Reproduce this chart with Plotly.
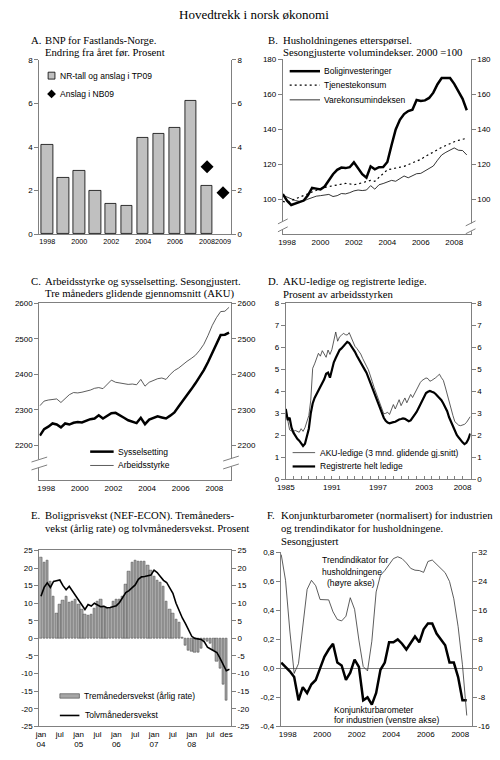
import numpy as np
import plotly.graph_objects as go

W, H = 500, 760
SANS = "Liberation Sans"
SERIF = "Liberation Serif"
AX = "#808080"
TICK = dict(family=SANS, size=8, color="black")

# A. BNP Fastlands-Norge, annual growth
a_year = [str(y) for y in range(1998, 2010)]
a_tp09 = [4.1, 2.6, 2.9, 2.0, 1.4, 1.3, 4.4, 4.6, 4.9, 6.1, 2.2, None]
a_nb09_year = ["2008", "2009"]
a_nb09 = [3.1, 1.9]
a_ticks = ["1998", "2000", "2002", "2004", "2006", "2008", "2009"]

# B. Household demand, quarterly from 1997 Q4
b_start = 1997.75
b_bolig = [103.2, 99.4, 97.0, 97.8, 98.8, 99.5, 102.5, 106.7, 106.3, 105.8,
           107.5, 111.0, 114.5, 117.0, 118.3, 118.0, 118.5, 121.3, 117.5, 114.5,
           112.5, 119.0, 117.3, 118.5, 118.6, 121.5, 131.0, 140.0, 145.5, 148.8,
           150.5, 151.3, 156.8, 156.2, 156.6, 158.0, 161.0, 165.8, 169.4, 169.4,
           169.4, 166.0, 162.0, 157.5, 151.0]
b_tjeneste = [99.0, 98.5, 99.5, 100.5, 101.5, 102.5, 103.5, 104.5, 105.5, 106.3,
              107.0, 107.5, 108.0, 108.5, 109.0, 109.3, 109.0, 108.5, 109.0, 109.8,
              110.5, 111.0, 110.5, 112.5, 114.5, 117.0, 117.5, 118.0, 118.3, 119.0,
              120.0, 121.0, 122.0, 123.0, 124.5, 126.0, 127.3, 128.5, 129.8, 131.0,
              132.0, 133.0, 133.8, 134.5, 135.0]
b_vare = [102.5, 101.5, 100.5, 99.5, 99.0, 99.3, 100.3, 101.3, 102.0, 102.3,
          102.8, 103.0, 101.8, 102.3, 103.5, 103.3, 104.0, 105.0, 105.5, 105.2,
          105.5, 108.0, 106.0, 108.5, 109.2, 110.3, 111.0, 110.5, 111.8, 113.5,
          112.5, 113.8, 114.8, 115.0, 116.3, 117.8, 119.2, 122.5, 125.5, 127.0,
          128.5, 129.5, 128.2, 128.0, 125.5]

# C. Labour force and employment (1000 persons), quarterly readings
c_start = 1997.625
c_syssel = [2228, 2246, 2253, 2262, 2259, 2251, 2262, 2259, 2264, 2266,
            2265, 2270, 2274, 2276, 2285, 2276, 2284, 2291, 2292, 2286,
            2278, 2271, 2267, 2263, 2278, 2260, 2273, 2278, 2282, 2279,
            2276, 2284, 2293, 2310, 2325, 2342, 2358, 2375, 2393, 2412,
            2435, 2460, 2488, 2511, 2512, 2518]
c_arbeid = [2312, 2325, 2328, 2330, 2331, 2321, 2333, 2343, 2349, 2348,
            2350, 2352, 2356, 2361, 2363, 2360, 2372, 2384, 2378, 2376,
            2374, 2372, 2373, 2371, 2386, 2367, 2378, 2384, 2388, 2390,
            2386, 2400, 2411, 2418, 2428, 2437, 2445, 2454, 2468, 2485,
            2510, 2538, 2560, 2577, 2578, 2589]

# D. Unemployment, per cent of labour force, quarterly from 1985
d_start = 1985.0
d_reg = [3.20, 2.70, 2.80, 2.35, 2.12, 1.95, 1.84, 1.76, 1.65, 1.52, 1.62, 1.92,
         2.30, 3.00, 3.45, 3.70, 3.88, 4.00, 4.20, 4.42, 4.55, 4.80, 4.85, 4.62,
         5.05, 5.32, 5.52, 5.70, 5.88, 5.95, 6.05, 6.20, 6.25, 6.20, 6.08, 5.96,
         5.80, 5.62, 5.45, 5.30, 5.15, 5.00, 4.85, 4.62, 4.45, 4.15, 3.95, 3.72,
         3.50, 3.25, 3.00, 2.80, 2.66, 2.58, 2.55, 2.56, 2.60, 2.62, 2.68, 2.72,
         2.74, 2.77, 2.75, 2.70, 2.64, 2.68, 2.80, 2.92, 3.05, 3.22, 3.40, 3.58,
         3.75, 3.92, 3.98, 4.02, 3.98, 3.95, 3.88, 3.80, 3.70, 3.60, 3.45, 3.30,
         3.10, 2.82, 2.62, 2.40, 2.18, 2.02, 1.90, 1.78, 1.68, 1.60, 1.66, 1.82,
         2.08]
d_aku = [3.15, 2.65, 2.25, 2.20, 2.18, 2.22, 2.18, 2.14, 2.30, 2.18, 2.35, 2.60,
         2.90, 3.60, 5.05, 5.25, 5.45, 5.73, 5.60, 5.85, 5.70, 5.55, 5.88, 5.68,
         5.90, 6.40, 6.70, 6.28, 6.48, 6.55, 6.64, 6.58, 6.56, 6.67, 6.45, 6.25,
         6.05, 5.95, 5.85, 5.70, 5.50, 5.35, 5.15, 4.98, 4.75, 4.45, 4.17, 3.95,
         3.72, 3.42, 3.20, 2.98, 3.00, 3.05, 2.95, 3.15, 3.40, 3.20, 3.45, 3.62,
         3.35, 3.55, 3.70, 3.48, 3.70, 3.86, 3.72, 3.90, 4.08, 4.25, 4.40, 4.50,
         4.56, 4.61, 4.58, 4.46, 4.50, 4.55, 4.62, 4.70, 4.78, 4.62, 4.50, 4.20,
         3.85, 3.50, 3.15, 2.90, 2.62, 2.52, 2.46, 2.44, 2.48, 2.50, 2.58, 2.70,
         2.85]
d_labels = {1985: "1985", 1991: "1991", 1997: "1997", 2003: "2003", 2008: "2008"}

# E. House prices, monthly from jan 2004
e_tre = [23.0, 21.5, 22.3, 16.3, 12.0, 7.0, 9.7, 10.7, 12.0, 10.3, 10.5, 11.0,
         9.7, 8.1, 6.9, 6.4, 6.9, 8.6, 10.5, 11.0, 9.1, 8.6, 8.6, 10.5,
         11.0, 11.0, 12.0, 15.2, 18.9, 21.5, 22.3, 22.0, 21.9, 21.8, 20.8, 19.2,
         17.5, 16.5, 15.8, 14.7, 10.5, 8.1, 7.2, 5.3, 4.4, 0.3, -2.0, -3.5,
         -3.8, -4.0, -4.0, -2.8, -0.5, -1.0, -1.5, -3.5, -6.5, -8.5, -13.0, -17.5]
e_tolv = [12.0, 14.5, 15.8, 14.5, 16.2, 16.4, 16.6, 15.0, 13.8, 14.8, 13.5, 12.0,
          10.8, 9.5, 8.2, 9.6, 9.2, 10.0, 9.4, 9.0, 9.1, 8.7, 8.8, 9.0,
          9.3, 10.2, 11.5, 13.0, 13.6, 14.3, 15.2, 16.8, 17.5, 17.6, 17.7, 18.0,
          19.4, 18.7, 17.6, 16.5, 15.9, 14.2, 12.8, 10.0, 7.8, 5.8, 4.2, 2.4,
          0.6, 0.0, -0.1, -0.3, -1.0, -2.5, -3.0, -3.4, -4.0, -5.6, -7.6, -9.2,
          -8.8]
e_tickpos = [0, 6, 12, 18, 24, 30, 36, 42, 48, 54, 59]
e_ticktext = ["jan<br>04", "jul", "jan<br>05", "jul", "jan<br>06", "jul",
              "jan<br>07", "jul", "jan<br>08", "jul", "des"]

# F. Business tendency (left) and household trend indicator (right), quarterly
f_start = 1998.0
f_konj = [0.04, 0.01, -0.02, -0.06, -0.22, -0.13, -0.17, -0.11, -0.08, 0.00,
          0.08, 0.13, 0.17, 0.04, 0.02, -0.08, -0.03, 0.06, 0.01, -0.22,
          -0.20, -0.25, -0.17, -0.01, 0.04, 0.18, 0.18, 0.20, 0.17, 0.13,
          0.18, 0.22, 0.18, 0.27, 0.31, 0.31, 0.24, 0.20, 0.16, 0.04,
          0.04, -0.06, -0.22, -0.22]
f_trend = [31.4, 24.3, 10.3, -1.4, 1.3, 11.7, 21.8, 24.3, 22.8, 19.0,
           18.9, 18.9, 15.6, 13.5, 13.1, 14.4, 19.5, 16.3, 7.8, 0.5,
           -0.7, 7.5, 21.1, 25.7, 27.0, 28.8, 30.3, 30.8, 30.3, 29.1,
           27.6, 27.1, 27.0, 26.5, 29.5, 29.9, 28.8, 27.6, 26.4, 24.0,
           19.2, 11.5, 1.0, -13.0]


def qx(start, values):
    return start + 0.25 * np.arange(len(values))


def px(x):
    return x / W


def py(y):
    return 1 - y / H


def xax(x0, x1, anchor, **kw):
    d = dict(domain=[px(x0), px(x1)], anchor=anchor, showline=True, linecolor=AX,
             linewidth=1, showgrid=False, zeroline=False, ticks="", tickfont=TICK,
             tickangle=0, fixedrange=True)
    d.update(kw)
    return d


def yax(top, bottom, anchor, **kw):
    d = dict(domain=[py(bottom), py(top)], anchor=anchor, showline=True, linecolor=AX,
             linewidth=1, showgrid=False, zeroline=False, ticks="outside", ticklen=4,
             tickcolor=AX, tickfont=TICK, fixedrange=True)
    d.update(kw)
    return d


def yright(over, anchor, **kw):
    d = dict(overlaying=over, anchor=anchor, side="right", showline=True, linecolor=AX,
             linewidth=1, showgrid=False, zeroline=False, ticks="outside", ticklen=4,
             tickcolor=AX, tickfont=TICK, fixedrange=True)
    d.update(kw)
    return d


def ghost(x, y, xaxis, yaxis):
    # invisible copy so the mirrored right-hand axis gets drawn
    return go.Scatter(x=x, y=y, xaxis=xaxis, yaxis=yaxis, mode="lines",
                      opacity=0, line=dict(width=0), hoverinfo="skip")


fig = go.Figure()

# A
fig.add_trace(go.Bar(x=a_year, y=a_tp09, xaxis="x", yaxis="y", width=0.7,
                     marker=dict(color="#c0c0c0", line=dict(color="black", width=0.8))))
fig.add_trace(go.Scatter(x=a_nb09_year, y=a_nb09, xaxis="x", yaxis="y", mode="markers",
                         marker=dict(symbol="diamond", size=10, color="black")))
fig.add_trace(ghost(a_nb09_year, a_nb09, "x", "y7"))

# B
bx = qx(b_start, b_bolig)
fig.add_trace(go.Scatter(x=bx, y=b_bolig, xaxis="x2", yaxis="y2", mode="lines",
                         line=dict(color="black", width=2.5)))
fig.add_trace(go.Scatter(x=bx, y=b_tjeneste, xaxis="x2", yaxis="y2", mode="lines",
                         line=dict(color="black", width=1.2, dash="2px,3px")))
fig.add_trace(go.Scatter(x=bx, y=b_vare, xaxis="x2", yaxis="y2", mode="lines",
                         line=dict(color="black", width=0.8)))
fig.add_trace(ghost(bx, b_vare, "x2", "y8"))

# C
cx = qx(c_start, c_syssel)
fig.add_trace(go.Scatter(x=cx, y=c_arbeid, xaxis="x3", yaxis="y3", mode="lines",
                         line=dict(color="#333333", width=0.8)))
fig.add_trace(go.Scatter(x=cx, y=c_syssel, xaxis="x3", yaxis="y3", mode="lines",
                         line=dict(color="black", width=2.5)))
fig.add_trace(ghost(cx, c_syssel, "x3", "y9"))

# D
dx = qx(d_start, d_reg)
fig.add_trace(go.Scatter(x=dx, y=d_aku, xaxis="x4", yaxis="y4", mode="lines",
                         line=dict(color="#333333", width=0.8)))
fig.add_trace(go.Scatter(x=dx, y=d_reg, xaxis="x4", yaxis="y4", mode="lines",
                         line=dict(color="black", width=2.2)))
fig.add_trace(ghost(dx, d_reg, "x4", "y10"))

# E
e_bx = list(range(len(e_tre)))
e_lx = list(range(len(e_tolv)))
fig.add_trace(go.Bar(x=e_bx, y=e_tre, xaxis="x5", yaxis="y5", width=0.75,
                     marker=dict(color="#a6a6a6", line=dict(color="#404040", width=0.5))))
fig.add_trace(go.Scatter(x=e_lx, y=e_tolv, xaxis="x5", yaxis="y5",
                         mode="lines", line=dict(color="black", width=1.6)))
fig.add_trace(ghost(e_lx, e_tolv, "x5", "y11"))

# F
fx = qx(f_start, f_konj)
fig.add_trace(go.Scatter(x=fx, y=f_trend, xaxis="x6", yaxis="y12", mode="lines",
                         line=dict(color="#333333", width=0.8)))
fig.add_trace(go.Scatter(x=fx, y=f_konj, xaxis="x6", yaxis="y6", mode="lines",
                         line=dict(color="black", width=2.5)))

even_years = list(range(1998, 2009, 2))
e_y = list(range(-25, 26, 5))
e_ytxt = [str(v) for v in e_y]
f_left = [-0.4, -0.2, 0.0, 0.2, 0.4, 0.6, 0.8]
f_left_txt = [f"{v:.1f}".replace(".", ",") for v in f_left]
f_right = [-16, -8, 0, 8, 16, 24, 32]

layout = dict(
    xaxis=xax(31, 227, "y", type="category", range=[-0.5, 11.5], tickvals=a_ticks,
              tickfont=dict(family=SANS, size=7.2, color="black")),
    yaxis=yax(56.5, 233, "x", range=[0, 8], tickvals=[0, 2, 4, 6, 8]),
    yaxis7=yright("y", "x", range=[0, 8], tickvals=[0, 2, 4, 6, 8]),

    xaxis2=xax(280, 472, "y2", range=[1997.75, 2008.98], tickvals=even_years),
    yaxis2=yax(56, 233, "x2", range=[80.3, 180], tickvals=[100, 120, 140, 160, 180]),
    yaxis8=yright("y2", "x2", range=[80.3, 180], tickvals=[100, 120, 140, 160, 180]),

    xaxis3=xax(31, 227, "y3", range=[1997.59, 2008.99], tickvals=even_years, mirror=True),
    yaxis3=yax(303, 482, "x3", range=[2102, 2600], tickvals=[2200, 2300, 2400, 2500, 2600]),
    yaxis9=yright("y3", "x3", range=[2102, 2600], tickvals=[2200, 2300, 2400, 2500, 2600]),

    xaxis4=xax(283, 472, "y4", range=[1985, 2009.05], mirror=True,
               tickvals=list(range(1985, 2009)),
               ticktext=[d_labels.get(y, "") for y in range(1985, 2009)],
               ticks="inside", ticklen=3, tickcolor=AX),
    yaxis4=yax(303, 481, "x4", range=[0, 8], dtick=1),
    yaxis10=yright("y4", "x4", range=[0, 8], dtick=1),

    xaxis5=xax(31, 227, "y5", range=[-0.53, 60.5], mirror=True,
               tickvals=e_tickpos, ticktext=e_ticktext),
    yaxis5=yax(553, 731, "x5", range=[-25, 25], tickvals=e_y, ticktext=e_ytxt),
    yaxis11=yright("y5", "x5", range=[-25, 25], tickvals=e_y, ticktext=e_ytxt),

    xaxis6=xax(278, 473, "y6", range=[1997.98, 2009.03],
               tickvals=[y + 0.375 for y in even_years], ticktext=[str(y) for y in even_years]),
    yaxis6=yax(555, 731, "x6", range=[-0.4, 0.8], tickvals=f_left, ticktext=f_left_txt,
               zeroline=True, zerolinecolor=AX, zerolinewidth=1),
    yaxis12=yright("y6", "x6", range=[-16, 32], tickvals=f_right,
                   ticktext=[str(v) for v in f_right]),
)

annotations = []


def text(x, y, s, size=8.5, family=SANS, xanchor="left"):
    annotations.append(dict(x=px(x), y=py(y), xref="paper", yref="paper", text=s,
                            showarrow=False, xanchor=xanchor, yanchor="middle",
                            font=dict(family=family, size=size, color="black")))


# titles
text(250, 11, "Hovedtrekk i norsk økonomi", size=13, family=SERIF, xanchor="center")
TS = 10.7
titles = [
    ("A.", 20, 35, ["BNP for Fastlands-Norge.", "Endring fra året før. Prosent"], 36),
    ("B.", 263, 278, ["Husholdningenes etterspørsel.", "Sesongjusterte volumindekser. 2000 =100"], 36),
    ("C.", 20, 35, ["Arbeidsstyrke og sysselsetting. Sesongjustert.",
                    "Tre måneders glidende gjennomsnitt (AKU)"], 280),
    ("D.", 263, 278, ["AKU-ledige og registrerte ledige.", "Prosent av arbeidsstyrken"], 280),
    ("E.", 20, 35, ["Boligprisvekst (NEF-ECON). Tremåneders-",
                    "vekst (årlig rate) og tolvmånedersvekst. Prosent"], 517.5),
    ("F.", 262, 276, ["Konjunkturbarometer (normalisert) for industrien",
                      "og trendindikator for husholdningene.", "Sesongjustert"], 517.5),
]
for letter, lx, tx, lines, y0 in titles:
    text(lx, y0, letter, size=TS, family=SERIF)
    for k, line in enumerate(lines):
        text(tx, y0 + 13 * k, line, size=TS, family=SERIF)

shapes = []


def seg(x0, y0, x1, y1, width=1, color="black", dash=None):
    ln = dict(color=color, width=width)
    if dash:
        ln["dash"] = dash
    shapes.append(dict(type="line", xref="paper", yref="paper", x0=px(x0), y0=py(y0),
                       x1=px(x1), y1=py(y1), line=ln, layer="above"))


def box(x0, y0, x1, y1, fill, line_color=None, width=0.8):
    shapes.append(dict(type="rect", xref="paper", yref="paper", x0=px(x0), y0=py(y0),
                       x1=px(x1), y1=py(y1), fillcolor=fill, layer="above",
                       line=dict(color=line_color or fill, width=width if line_color else 0)))


# legends
box(40, 69, 47, 76, "#c0c0c0", "black")
text(50, 72.5, "NR-tall og anslag i TP09")
r = 4.5
shapes.append(dict(type="path", xref="paper", yref="paper", layer="above",
                   path=f"M {px(43.5)},{py(91 - r)} L {px(43.5 + r)},{py(91)} "
                        f"L {px(43.5)},{py(91 + r)} L {px(43.5 - r)},{py(91)} Z",
                   fillcolor="black", line=dict(color="black", width=0)))
text(50, 91, "Anslag i NB09")

seg(287, 68, 318, 68, width=2.5)
text(320, 68, "Boliginvesteringer")
seg(287, 82, 318, 82, width=1.2, dash="2px,3px")
text(320, 82, "Tjenestekonsum")
seg(287, 97, 318, 97, width=0.8)
text(320, 97, "Varekonsumindeksen")

seg(83, 453, 107, 453, width=2.5)
text(109, 453, "Sysselsetting")
seg(83, 467, 107, 467, width=0.8, color="#333333")
text(109, 467, "Arbeidsstyrke")

seg(290, 454, 313, 454, width=0.8, color="#333333")
text(316, 454, "AKU-ledige (3 mnd. glidende gj.snitt)")
seg(290, 468, 313, 468, width=2.2)
text(316, 468, "Registrerte helt ledige")

box(52, 698, 72, 702.5, "#a6a6a6", "#404040", 0.6)
text(75, 700, "Tremånedersvekst (årlig rate)")
seg(52, 720, 72, 720, width=1.6)
text(76, 720, "Tolvmånedersvekst")

# panel F labels
text(318, 563, "Trendindikator for")
text(318, 574.5, "husholdningene")
text(323, 586, "(høyre akse)")
text(330, 714, "Konjunkturbarometer")
text(330, 725, "for industrien (venstre akse)")

# axis breaks (B and C)
for ax_x, half, top, bot in [(280, 5, 220, 228), (472, 5, 222, 230),
                             (31, 8, 461, 469), (227, 8, 460, 468)]:
    box(ax_x - 2, top, ax_x + 2, bot, "white")
    seg(ax_x - half, top + 2.5, ax_x + half, top - 2.5, color=AX)
    seg(ax_x - half, bot + 2.5, ax_x + half, bot - 2.5, color=AX)

fig.update_layout(**layout)
fig.update_layout(
    width=W, height=H, margin=dict(l=0, r=0, t=0, b=0),
    paper_bgcolor="white", plot_bgcolor="white",
    showlegend=False, hovermode=False, bargap=0,
    annotations=annotations, shapes=shapes,
)

fig.write_html("out.html", config={"displayModeBar": False},
               post_script="document.body.style.margin='0px';")
